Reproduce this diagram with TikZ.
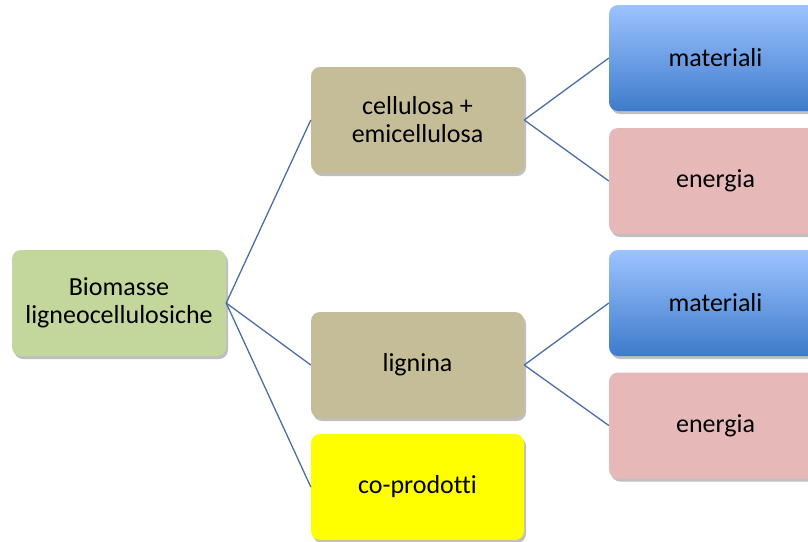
\documentclass[tikz,border=0pt]{standalone}
\usepackage{fontspec}
\setmainfont[Ligatures=NoCommon]{Carlito}
\usetikzlibrary{shadows}
\definecolor{cgreen}{HTML}{C3D69B}
\definecolor{ctan}{HTML}{C4BD97}
\definecolor{cpink}{HTML}{E6B9B8}
\definecolor{cyel}{HTML}{FFFF00}
\definecolor{cbluetop}{HTML}{9DC3FF}
\definecolor{cbluebot}{HTML}{3E7BCB}
\definecolor{cline}{HTML}{4A6FA8}
\tikzset{
  box/.style={rounded corners=9pt, minimum width=213pt, minimum height=106pt,
    align=center, font=\fontsize{26}{28}\selectfont,
    drop shadow={shadow xshift=2pt, shadow yshift=-3pt, opacity=0.25, fill=black}},
  link/.style={draw=cline, line width=1.3pt},
  bluebox/.style={box, top color=cbluetop, bottom color=cbluebot, shading angle=0}
}
\begin{document}
\begin{tikzpicture}[x=1pt,y=-1pt]
\useasboundingbox (0,0) rectangle (808,541);
\node[box, fill=cgreen, minimum width=214pt] (bio) at (119,303) {Biomasse\\ligneocellulosiche};
\node[box, fill=ctan] (cel) at (417.5,120) {cellulosa +\\emicellulosa};
\node[box, fill=ctan] (lig) at (417.5,365) {lignina};
\node[box, fill=cyel] (cop) at (417.5,487) {co-prodotti};
\node[bluebox] (mat1) at (715.5,58) {materiali};
\node[box, fill=cpink] (ene1) at (715.5,181) {energia};
\node[bluebox] (mat2) at (715.5,303) {materiali};
\node[box, fill=cpink] (ene2) at (715.5,425.5) {energia};
\draw[link] (bio.east) -- (cel.west);
\draw[link] (bio.east) -- (lig.west);
\draw[link] (bio.east) -- (cop.west);
\draw[link] (cel.east) -- (mat1.west);
\draw[link] (cel.east) -- (ene1.west);
\draw[link] (lig.east) -- (mat2.west);
\draw[link] (lig.east) -- (ene2.west);
\end{tikzpicture}
\end{document}
